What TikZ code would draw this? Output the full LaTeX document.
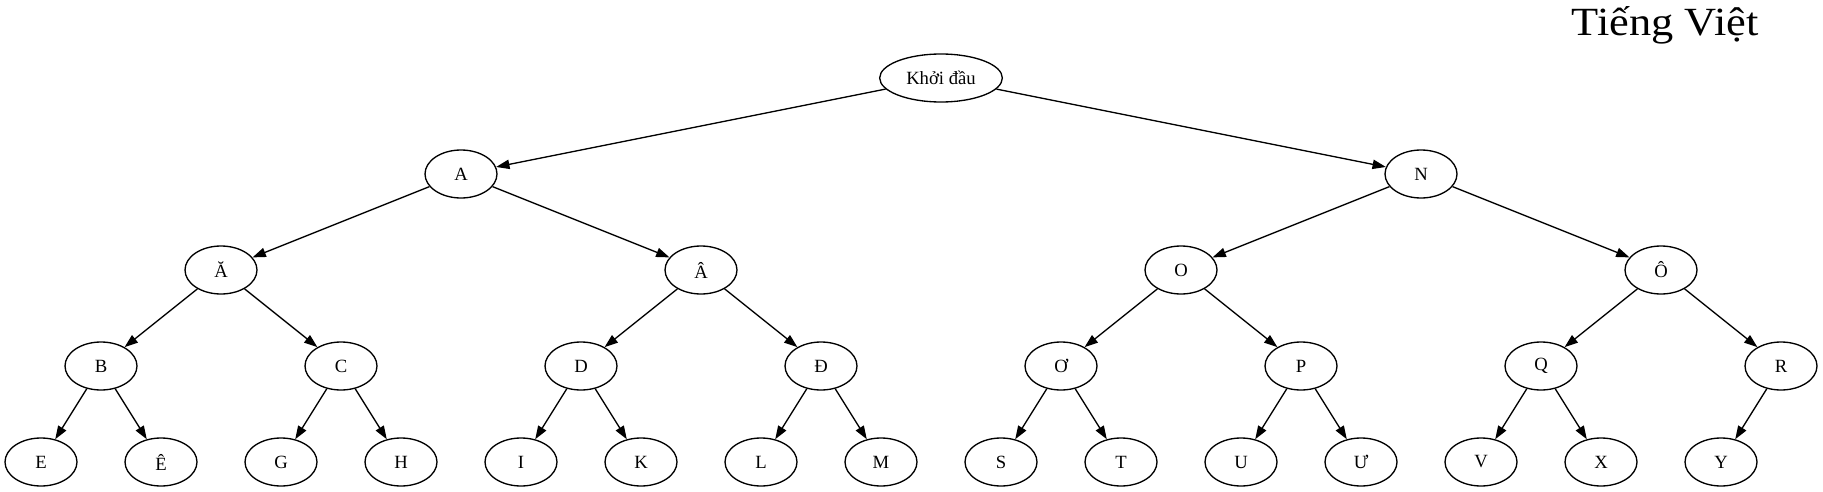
\documentclass[tikz,border=0pt]{standalone}
\usepackage{fontspec}
\setmainfont{Liberation Serif}
\newfontfamily\titlefont[FakeStretch=1.11]{Liberation Serif}
\usetikzlibrary{shapes.geometric,arrows.meta}
\tikzset{
  tnode/.style={draw, ellipse, line width=1pt, minimum width=54pt, minimum height=36pt, inner sep=0pt, font=\fontsize{14}{16}\selectfont},
  tedge/.style={draw, line width=1pt, -{Triangle[length=10pt,width=7pt]}}
}
\begin{document}
\begin{tikzpicture}[x=0.75pt,y=-0.75pt]
\useasboundingbox (0,0) rectangle (1823,492);
\node[anchor=base east, inner sep=0pt, font=\titlefont\fontsize{30}{36}\selectfont] (title) at (1759,36) {Tiếng Việt};
\node[tnode, minimum width=92pt] (root) at (941,78) {Khởi đầu};
\node[tnode] (A) at (461,174) {A};
\node[tnode] (N) at (1421,174) {N};
\node[tnode] (Ab) at (221,270) {Ă};
\node[tnode] (Ac) at (701,270) {Â};
\node[tnode] (O) at (1181,270) {O};
\node[tnode] (Oc) at (1661,270) {Ô};
\node[tnode] (B) at (101,366) {B};
\node[tnode] (C) at (341,366) {C};
\node[tnode] (D) at (581,366) {D};
\node[tnode] (Dd) at (821,366) {Đ};
\node[tnode] (Oh) at (1061,366) {Ơ};
\node[tnode] (P) at (1301,366) {P};
\node[tnode] (Q) at (1541,366) {Q};
\node[tnode] (R) at (1781,366) {R};
\node[tnode] (E) at (41,462) {E};
\node[tnode] (Ec) at (161,462) {Ê};
\node[tnode] (G) at (281,462) {G};
\node[tnode] (H) at (401,462) {H};
\node[tnode] (I) at (521,462) {I};
\node[tnode] (K) at (641,462) {K};
\node[tnode] (L) at (761,462) {L};
\node[tnode] (M) at (881,462) {M};
\node[tnode] (S) at (1001,462) {S};
\node[tnode] (T) at (1121,462) {T};
\node[tnode] (U) at (1241,462) {U};
\node[tnode] (Uh) at (1361,462) {Ư};
\node[tnode] (V) at (1481,462) {V};
\node[tnode] (X) at (1601,462) {X};
\node[tnode] (Y) at (1721,462) {Y};
\foreach \a/\b in {root/A, root/N, A/Ab, A/Ac, N/O, N/Oc, Ab/B, Ab/C, Ac/D, Ac/Dd, O/Oh, O/P, Oc/Q, Oc/R, B/E, B/Ec, C/G, C/H, D/I, D/K, Dd/L, Dd/M, Oh/S, Oh/T, P/U, P/Uh, Q/V, Q/X, R/Y}
  \path[tedge] (\a) -- (\b);
\end{tikzpicture}
\end{document}
